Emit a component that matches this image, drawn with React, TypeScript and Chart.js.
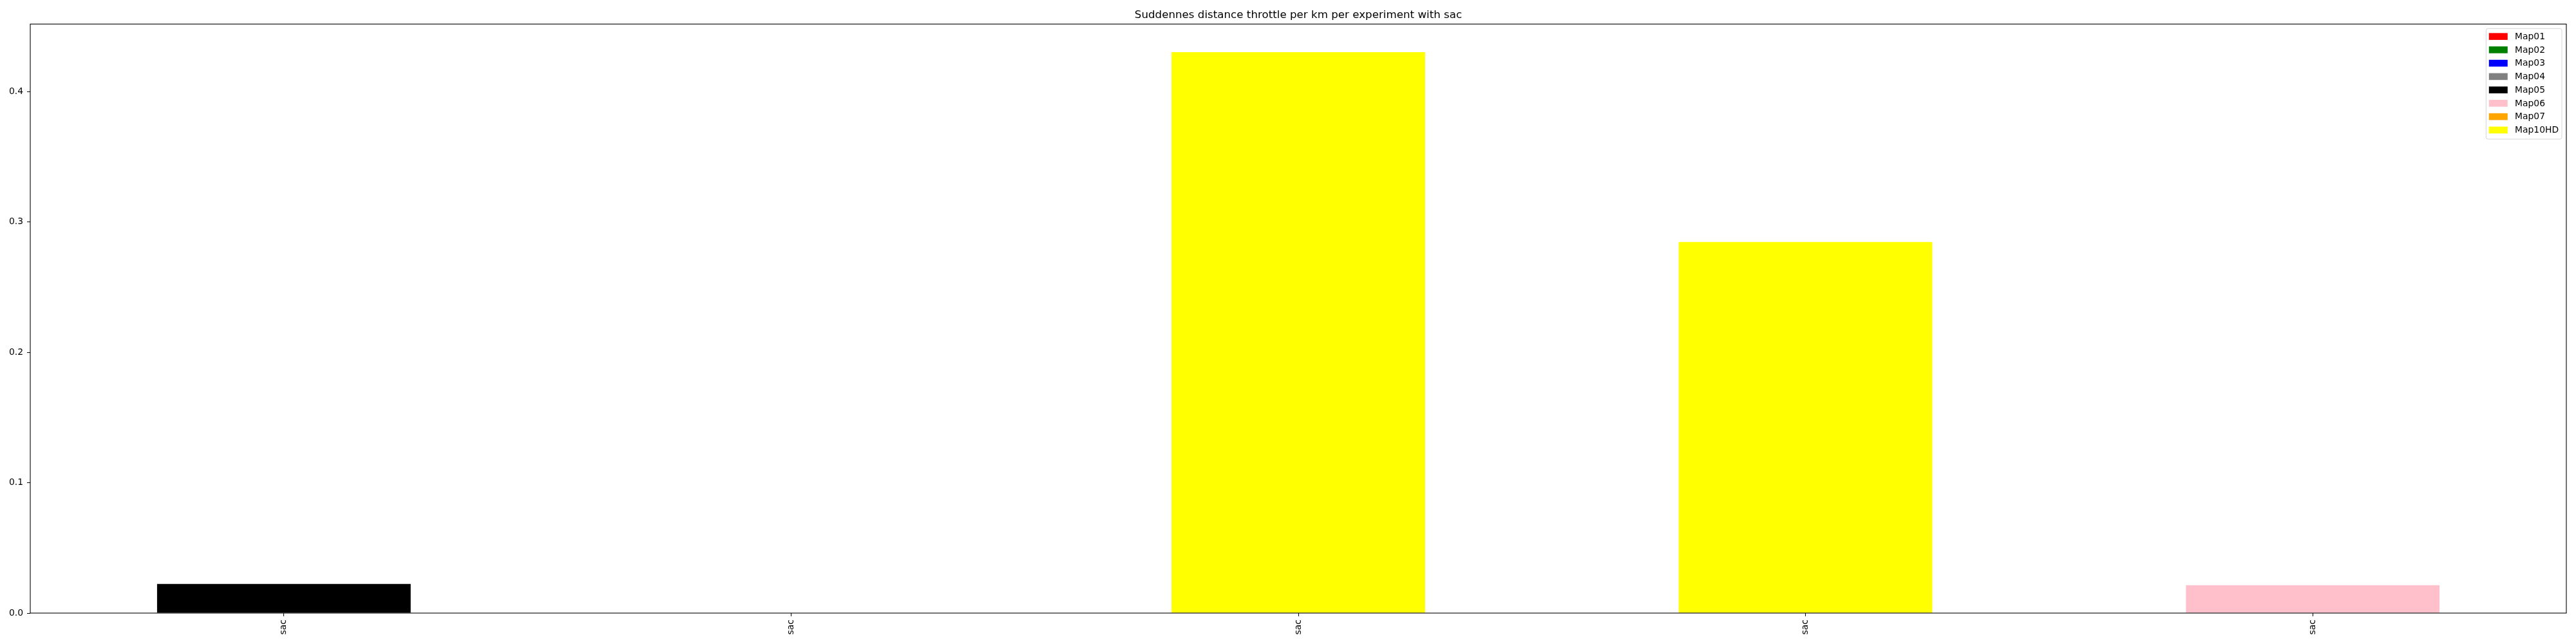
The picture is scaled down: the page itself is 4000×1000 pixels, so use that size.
import React, { useEffect, useRef } from "react";
import { Chart, registerables } from "chart.js";

Chart.register(...registerables);

const categories = ["sac", "sac", "sac", "sac", "sac"];
const seriesNames = ["Map01", "Map02", "Map03", "Map04", "Map05", "Map06", "Map07", "Map10HD"];
const seriesColors = ["#ff0000", "#008000", "#0000ff", "#808080", "#000000", "#ffc0cb", "#ffa500", "#ffff00"];
const map01 = [null, null, null, null, null];
const map02 = [null, null, null, null, null];
const map03 = [null, null, null, null, null];
const map04 = [null, null, null, null, null];
const map05 = [0.0224, null, null, null, null];
const map06 = [null, null, null, null, 0.0214];
const map07 = [null, null, null, null, null];
const map10hd = [null, null, 0.4303, 0.2847, null];
const seriesValues = [map01, map02, map03, map04, map05, map06, map07, map10hd];
const yTickValues = [0.0, 0.1, 0.2, 0.3, 0.4];
const titleText = "Suddennes distance throttle per km per experiment with sac";

const FONT = "'DejaVu Sans', sans-serif";

const spinesAndLegend = {
  id: "spinesAndLegend",
  afterDatasetsDraw(chart: any) {
    const { ctx, chartArea } = chart;
    ctx.save();
    ctx.strokeStyle = "#000";
    ctx.lineWidth = 1.1;
    ctx.strokeRect(chartArea.left, chartArea.top, chartArea.right - chartArea.left, chartArea.bottom - chartArea.top);
    ctx.restore();
  },
  afterDraw(chart: any) {
    const { ctx, chartArea } = chart;
    const ds = chart.data.datasets;
    const boxRight = chartArea.right - 7;
    const boxLeft = boxRight - 117.6;
    const boxTop = chartArea.top + 7;
    const boxBottom = boxTop + 171.7;
    ctx.save();
    // frame
    const r = 3;
    ctx.beginPath();
    ctx.moveTo(boxLeft + r, boxTop);
    ctx.lineTo(boxRight - r, boxTop);
    ctx.quadraticCurveTo(boxRight, boxTop, boxRight, boxTop + r);
    ctx.lineTo(boxRight, boxBottom - r);
    ctx.quadraticCurveTo(boxRight, boxBottom, boxRight - r, boxBottom);
    ctx.lineTo(boxLeft + r, boxBottom);
    ctx.quadraticCurveTo(boxLeft, boxBottom, boxLeft, boxBottom - r);
    ctx.lineTo(boxLeft, boxTop + r);
    ctx.quadraticCurveTo(boxLeft, boxTop, boxLeft + r, boxTop);
    ctx.closePath();
    ctx.fillStyle = "rgba(255,255,255,0.8)";
    ctx.fill();
    ctx.strokeStyle = "rgba(204,204,204,0.8)";
    ctx.lineWidth = 1;
    ctx.stroke();
    ctx.font = `13.9px ${FONT}`;
    ctx.textAlign = "left";
    ctx.textBaseline = "alphabetic";
    for (let i = 0; i < ds.length; i++) {
      const cy = boxTop + 12.3 + 20.75 * i;
      ctx.fillStyle = ds[i].backgroundColor;
      ctx.fillRect(boxLeft + 4.4, cy - 5.3, 29, 10.6);
      ctx.fillStyle = "#000";
      ctx.fillText(ds[i].label, boxLeft + 44.6, cy + 4.2);
    }
    ctx.restore();
  },
};

export default function App() {
  const canvasRef = useRef<HTMLCanvasElement | null>(null);

  useEffect(() => {
    if (!canvasRef.current) return;
    Chart.defaults.font.family = FONT;
    const chart = new Chart(canvasRef.current, {
      type: "bar",
      data: {
        labels: categories,
        datasets: seriesNames.map((name, i) => ({
          label: name,
          data: seriesValues[i] as any,
          backgroundColor: seriesColors[i],
          borderWidth: 0,
          grouped: false,
          barPercentage: 0.5,
          categoryPercentage: 1.0,
        })),
      },
      options: {
        animation: false,
        responsive: false,
        maintainAspectRatio: false,
        layout: { padding: { left: 0, right: 15, top: 0, bottom: 0 } },
        plugins: {
          legend: { display: false },
          tooltip: { enabled: false },
          title: {
            display: true,
            text: titleText,
            color: "#000",
            fullSize: false,
            font: { family: FONT, size: 16.7, weight: "normal", lineHeight: 1.2 },
            padding: { top: 14, bottom: 3.3 },
          },
        },
        scales: {
          x: {
            type: "category",
            offset: true,
            grid: {
              display: true,
              drawOnChartArea: false,
              drawTicks: true,
              tickLength: 5,
              color: "#000",
              lineWidth: 1,
              offset: false,
            },
            border: { display: false },
            ticks: {
              color: "#000",
              font: { family: FONT, size: 13.9 },
              minRotation: 90,
              maxRotation: 90,
              autoSkip: false,
              padding: 5,
            },
            afterFit: (scale: any) => {
              scale.height = 48;
            },
          },
          y: {
            type: "linear",
            min: 0,
            max: 0.4519,
            grid: {
              display: true,
              drawOnChartArea: false,
              drawTicks: true,
              tickLength: 5,
              color: "#000",
              lineWidth: 1,
            },
            border: { display: false },
            ticks: {
              color: "#000",
              font: { family: FONT, size: 13.9 },
              padding: 6,
              callback: (v: any) => Number(v).toFixed(1),
            },
            afterBuildTicks: (scale: any) => {
              scale.ticks = yTickValues.map((v) => ({ value: v }));
            },
            afterFit: (scale: any) => {
              scale.width = 47;
            },
          },
        },
      },
      plugins: [spinesAndLegend],
    });
    return () => chart.destroy();
  }, []);

  return (
    <div style={{ position: "absolute", left: 0, top: 0, width: 4000, height: 1000, background: "#fff" }}>
      <canvas ref={canvasRef} width={4000} height={1000} style={{ display: "block" }} />
    </div>
  );
}
